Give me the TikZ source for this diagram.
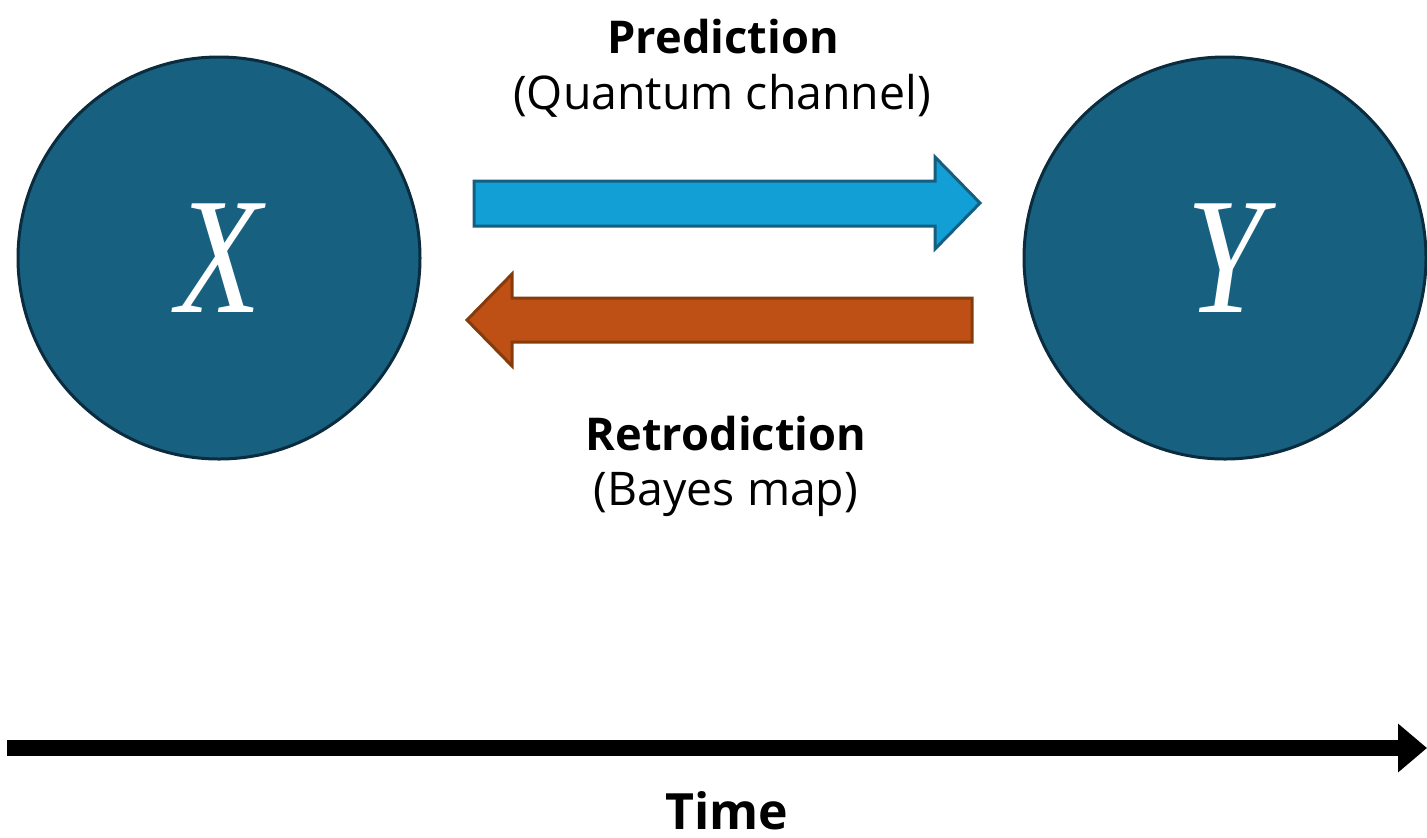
\documentclass[tikz,border=0pt]{standalone}
\usepackage{fontspec}
\usepackage{graphicx}
\setmainfont{Open Sans}
\newfontfamily\varfont{Liberation Serif}
\usetikzlibrary{arrows.meta}
\definecolor{nodefill}{RGB}{24,96,128}
\definecolor{nodeline}{RGB}{10,44,62}
\definecolor{predfill}{RGB}{18,159,214}
\definecolor{predline}{RGB}{22,94,128}
\definecolor{retrofill}{RGB}{191,80,21}
\definecolor{retroline}{RGB}{132,60,12}
\newcommand{\varletter}[1]{\raisebox{-4.5pt}{\scalebox{0.84}[1]{#1}}}
\tikzset{
  statenode/.style={circle, fill=nodefill, draw=nodeline, line width=1.5pt,
    minimum size=201pt, inner sep=0pt, text=white,
    font=\varfont\itshape\fontsize{83}{83}\selectfont},
  blockarrow/.style={line width=1.5pt, line join=miter},
  headline/.style={font=\fontsize{22.6}{26}\selectfont\bfseries},
  subline/.style={font=\fontsize{23.2}{27}\selectfont},
}
\begin{document}
\begin{tikzpicture}[x=0.5pt,y=-0.5pt]
\useasboundingbox (0,0) rectangle (1427,837);
\node[statenode] (X) at (219,258) {\varletter{X}};
\node[statenode] (Y) at (1225,258) {\varletter{Y}};

% forward block arrow (prediction)
\draw[blockarrow, fill=predfill, draw=predline]
  (474,181) -- (935,181) -- (935,157) -- (980,203) -- (935,249)
  -- (935,226) -- (474,226) -- cycle;
% backward block arrow (retrodiction)
\draw[blockarrow, fill=retrofill, draw=retroline]
  (972,298) -- (512,298) -- (512,274) -- (467,320) -- (512,366)
  -- (512,342) -- (972,342) -- cycle;

\node[headline] (predt) at (723,37) {Prediction};
\node[subline] (preds) at (722,96) {(Quantum channel)};
\node[headline] (retrot) at (726,434) {Retrodiction};
\node[subline] (retros) at (726,494) {(Bayes map)};

\coordinate (tstart) at (7,748);
\coordinate (tend) at (1427,748);
\draw[line width=8pt, -{Triangle[length=14.5pt,width=23.5pt]}] (tstart) -- (tend);
\node[font=\fontsize{25}{30}\selectfont\bfseries, anchor=base, inner sep=0pt]
  (time) at (727,829) {Time};
\end{tikzpicture}
\end{document}
